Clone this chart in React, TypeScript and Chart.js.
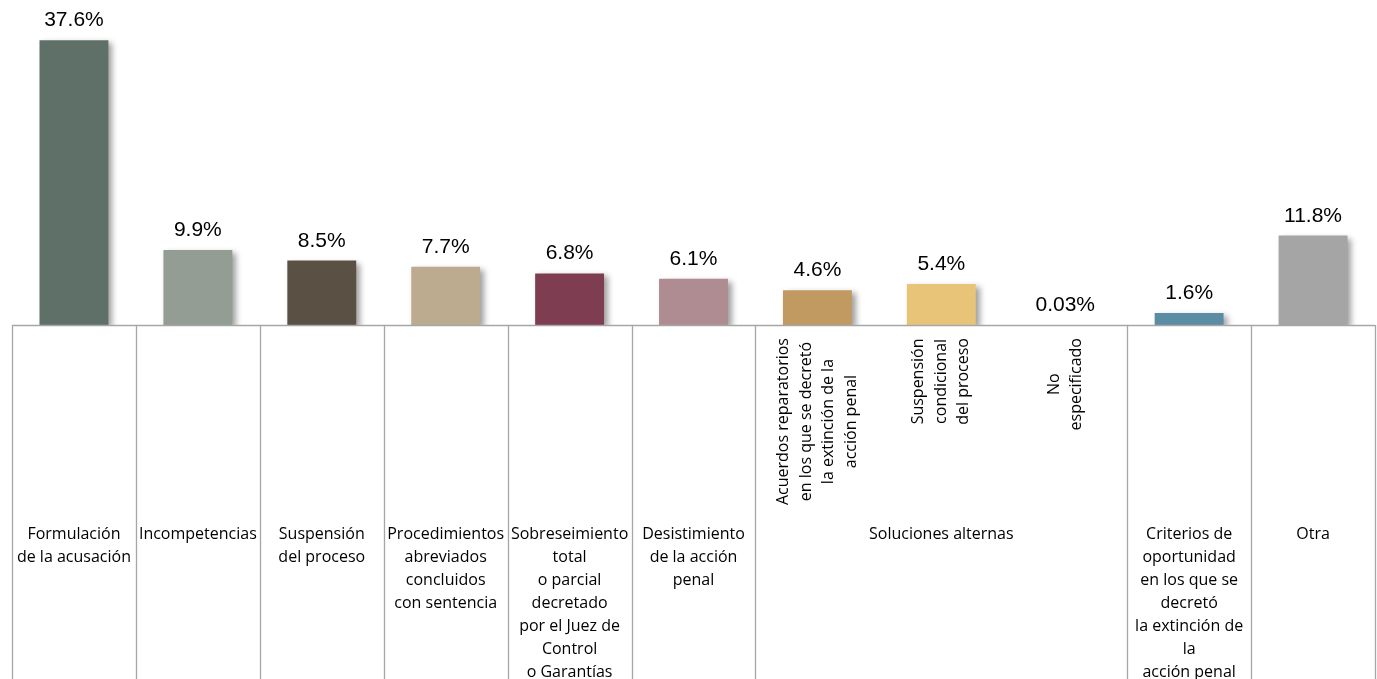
import React, { useEffect, useRef } from "react";
import { Chart, registerables } from "chart.js";

Chart.register(...registerables);

const barNames: string[] = [
  "Formulación de la acusación",
  "Incompetencias",
  "Suspensión del proceso",
  "Procedimientos abreviados concluidos con sentencia",
  "Sobreseimiento total o parcial",
  "Desistimiento de la acción penal",
  "Acuerdos reparatorios",
  "Suspensión condicional del proceso",
  "No especificado",
  "Criterios de oportunidad",
  "Otra",
];

const values: number[] = [37.6, 9.9, 8.5, 7.7, 6.8, 6.1, 4.6, 5.4, 0.03, 1.6, 11.8];

const valueLabels: string[] = ["37.6%", "9.9%", "8.5%", "7.7%", "6.8%", "6.1%", "4.6%", "5.4%", "0.03%", "1.6%", "11.8%"];

const barColors: string[] = [
  "#5f7069",
  "#939d94",
  "#5a5044",
  "#bdab8f",
  "#7f3d52",
  "#ae8c91",
  "#c19a62",
  "#e8c479",
  "rgba(138,138,138,0)",
  "#5a8da3",
  "#a5a5a5",
];

// first-level (rotated) labels, per bar
const subLabels: (string[] | null)[] = [
  null,
  null,
  null,
  null,
  null,
  null,
  ["Acuerdos reparatorios", "en los que se decretó", "la extinción de la", "acción penal"],
  ["Suspensión", "condicional", "del proceso"],
  ["No", "especificado"],
  null,
  null,
];

// second-level labels and how many bars each spans
const groupLabels: string[][] = [
  ["Formulación", "de la acusación"],
  ["Incompetencias"],
  ["Suspensión", "del proceso"],
  ["Procedimientos", "abreviados", "concluidos", "con sentencia"],
  ["Sobreseimiento", "total", "o parcial", "decretado", "por el Juez de", "Control", "o Garantías"],
  ["Desistimiento", "de la acción", "penal"],
  ["Soluciones alternas"],
  ["Criterios de", "oportunidad", "en los que se", "decretó", "la extinción de", "la", "acción penal"],
  ["Otra"],
];
const groupSpans: number[] = [1, 1, 1, 1, 1, 1, 3, 1, 1];

const LABEL_FONT = '16px "Open Sans"';
const VALUE_FONT = '21px "Liberation Sans", Arial';
const LINE_COLOR = "#a6a6a6";

const shadowAndLabels = {
  id: "shadowAndLabels",
  beforeDatasetsDraw(chart: any) {
    const ctx = chart.ctx;
    ctx.save();
    ctx.shadowColor = "rgba(0,0,0,0.38)";
    ctx.shadowBlur = 6;
    ctx.shadowOffsetX = 4;
    ctx.shadowOffsetY = 3;
  },
  afterDatasetsDraw(chart: any) {
    const ctx = chart.ctx;
    ctx.restore();
    const meta = chart.getDatasetMeta(0);
    ctx.save();
    ctx.font = VALUE_FONT;
    ctx.fillStyle = "#000000";
    ctx.textAlign = "center";
    ctx.textBaseline = "alphabetic";
    meta.data.forEach((bar: any, i: number) => {
      ctx.fillText(valueLabels[i], bar.x, bar.y - 14);
    });
    ctx.restore();
  },
};

const multiLevelAxis = {
  id: "multiLevelAxis",
  afterDraw(chart: any) {
    const ctx = chart.ctx;
    const x = chart.scales.x;
    const area = chart.chartArea;
    const H = chart.height;
    const step = x.getPixelForValue(1) - x.getPixelForValue(0);
    const half = step / 2;
    const bottom = area.bottom;

    ctx.save();
    ctx.strokeStyle = LINE_COLOR;
    ctx.lineWidth = 1.3;
    // axis line
    ctx.beginPath();
    ctx.moveTo(x.getPixelForValue(0) - half, bottom + 0.5);
    ctx.lineTo(x.getPixelForValue(values.length - 1) + half, bottom + 0.5);
    ctx.stroke();

    // group boundaries and labels
    let idx = 0;
    const bounds: number[] = [x.getPixelForValue(0) - half];
    groupSpans.forEach((span) => {
      idx += span;
      bounds.push(x.getPixelForValue(idx - 1) + half);
    });
    bounds.forEach((bx) => {
      ctx.beginPath();
      ctx.moveTo(Math.round(bx) + 0.5, bottom);
      ctx.lineTo(Math.round(bx) + 0.5, H);
      ctx.stroke();
    });

    ctx.fillStyle = "#000000";
    ctx.font = LABEL_FONT;
    ctx.textAlign = "center";
    ctx.textBaseline = "middle";
    groupLabels.forEach((lines, g) => {
      const cx = (bounds[g] + bounds[g + 1]) / 2;
      lines.forEach((ln, k) => {
        ctx.fillText(ln, cx, 534 + k * 23.1);
      });
    });

    // rotated first-level labels
    subLabels.forEach((lines, i) => {
      if (!lines) return;
      const cx = x.getPixelForValue(i);
      const maxW = Math.max(...lines.map((l) => ctx.measureText(l).width));
      const cy = bottom + 13 + maxW / 2;
      const lh = 22.5;
      ctx.save();
      ctx.translate(cx, cy);
      ctx.rotate(-Math.PI / 2);
      lines.forEach((ln, k) => {
        const off = (k - (lines.length - 1) / 2) * lh;
        ctx.fillText(ln, 0, off);
      });
      ctx.restore();
    });
    ctx.restore();
  },
};

export default function App() {
  const ref = useRef<HTMLCanvasElement | null>(null);

  useEffect(() => {
    if (!ref.current) return;
    const chart = new Chart(ref.current, {
      type: "bar",
      data: {
        labels: barNames,
        datasets: [
          {
            data: values,
            backgroundColor: barColors,
            borderWidth: 0,
            categoryPercentage: 1,
            barPercentage: 0.556,
          },
        ],
      },
      options: {
        animation: false,
        responsive: true,
        maintainAspectRatio: false,
        layout: { padding: { left: 12, right: 2, top: 22, bottom: 354 } },
        plugins: {
          legend: { display: false },
          tooltip: { enabled: false },
        },
        scales: {
          x: { display: false, offset: true, grid: { display: false } },
          y: { display: false, min: 0, max: 40 },
        },
      },
      plugins: [shadowAndLabels, multiLevelAxis],
    });
    return () => chart.destroy();
  }, []);

  return (
    <div style={{ position: "fixed", left: 0, top: 0, width: 1377, height: 679, background: "#ffffff" }}>
      <canvas ref={ref} />
    </div>
  );
}
